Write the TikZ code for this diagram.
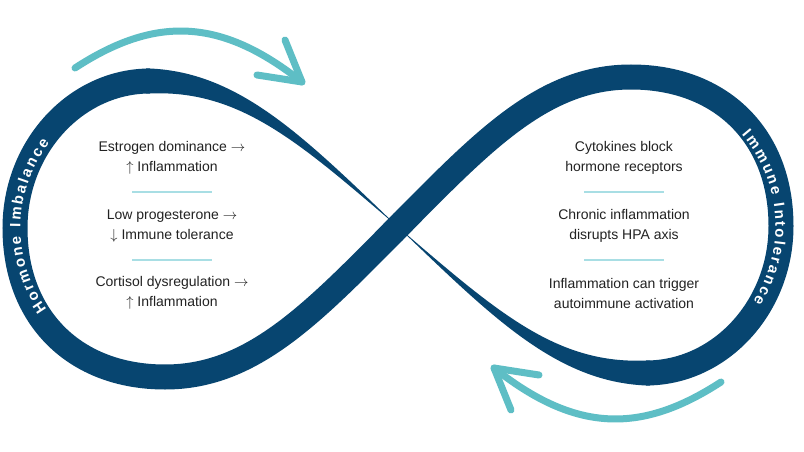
\documentclass[tikz,border=0pt]{standalone}
\usepackage{fontspec}
\setmainfont{Liberation Sans}
\newfontfamily\bandfam{Liberation Sans}
\usetikzlibrary{decorations.markings}
\definecolor{ribbonblue}{HTML}{074570}
\definecolor{arrowteal}{HTML}{5EBEC5}
\definecolor{divteal}{HTML}{A8DEE4}
\definecolor{bodytext}{HTML}{222222}
\newcommand\bandfont{\bandfam\bfseries\fontsize{15}{15}\selectfont}
\newcommand\ra{\ensuremath{\rightarrow}}
\newcommand\ua{\ensuremath{\uparrow}}
\newcommand\da{\ensuremath{\downarrow}}
% #1 path, #2 distance of text centre along path (pt), #3 letter gap (pt),
% #4 list letter/advance width (Liberation Sans Bold, 1/1000 em, at 15pt)
\newcommand\bandlabel[4]{%
  \gdef\bandtot{0}%
  \foreach \bch/\bw in {#4}{%
    \pgfmathparse{\bandtot+\bw*0.015+#3}\xdef\bandtot{\pgfmathresult}}%
  \pgfmathparse{#2-(\bandtot-#3)/2}\xdef\bandcur{\pgfmathresult}%
  \foreach \bch/\bw in {#4}{%
    \pgfmathparse{\bandcur+\bw*0.0075}\edef\bcpos{\pgfmathresult pt}%
    \pgfmathparse{\bandcur+\bw*0.015+#3}\xdef\bandcur{\pgfmathresult}%
    \path[decorate,decoration={markings,mark=at position \bcpos with {\node[bandletter] {\bch};}}] #1;%
  }%
}
\newcommand\ribbonhalf{%
  \fill[ribbonfill] (398,227) .. controls (304.4,137.3) and (240,72.5) .. (150,68.5)
     -- (146,68.5) -- (146,93.5) -- (150,93.5)
     .. controls (240,89.5) and (299.6,142.7) .. (398,227) -- cycle;
  \draw[ribbon] (150,81) .. controls (76,81) and (15,147) .. (15,228)
     .. controls (15,318) and (75,377) .. (165,377)
     .. controls (252,377) and (312,314) .. (398,227) -- (403.6,221.3);
}
\begin{document}
\begin{tikzpicture}[x=1pt,y=-1pt,
  ribbon/.style={draw=ribbonblue, line width=25pt, line cap=butt},
  ribbonfill/.style={fill=ribbonblue},
  cyclearrow/.style={draw=arrowteal, line width=7pt, line cap=round, line join=round},
  divider/.style={draw=divteal, line width=1.2pt},
  info/.style={align=center, text=bodytext, font=\fontsize{14}{20}\selectfont, inner sep=0pt},
  bandletter/.style={transform shape, anchor=base, inner sep=0pt, text=white, font=\bandfont}]
\useasboundingbox (0,0) rectangle (804,452);
\fill[white] (0,0) rectangle (804,452);

% infinity ribbon
\ribbonhalf
\begin{scope}[rotate around={180:(398,227)}]
  \ribbonhalf
\end{scope}

% cycle arrows
\coordinate (as) at (75,68);
\coordinate (at) at (302,82);
\coordinate (aw1) at (285,40);
\coordinate (aw2) at (257,75);
\draw[cyclearrow] (as) .. controls (154.6,16.2) and (220,17) .. (at);
\draw[cyclearrow] (aw1) -- (at) -- (aw2);
\begin{scope}[rotate around={180:(398,225)}]
  \coordinate (bs) at (75,68);
  \coordinate (bt) at (302,82);
  \coordinate (bw1) at (285,40);
  \coordinate (bw2) at (257,75);
  \draw[cyclearrow] (bs) .. controls (154.6,16.2) and (220,17) .. (bt);
  \draw[cyclearrow] (bw1) -- (bt) -- (bw2);
\end{scope}

% band labels
\bandlabel{(112.29,359.09) arc[start angle=110,end angle=250,radius=139.5]}{172.86}{2.2}{H/722,o/611,r/389,m/889,o/611,n/611,e/556,~/278,I/278,m/889,b/611,a/556,l/278,a/556,n/611,c/556,e/556}
\bandlabel{(660.22,88.62) arc[start angle=-80,end angle=70,radius=139.5]}{185.04}{2.2}{I/278,m/889,m/889,u/611,n/611,e/556,~/278,I/278,n/611,t/333,o/611,l/278,e/556,r/389,a/556,n/611,c/556,e/556}

% left texts
\node[info] (l1) at (172,158) {Estrogen dominance \ra\\\ua\ Inflammation};
\node[info] (l2) at (172,226) {Low progesterone \ra\\\da\ Immune tolerance};
\node[info] (l3) at (172,293) {Cortisol dysregulation \ra\\\ua\ Inflammation};
\draw[divider] (132,192) -- (212,192);
\draw[divider] (132,260) -- (212,260);

% right texts
\node[info] (r1) at (624,158) {Cytokines block\\hormone receptors};
\node[info] (r2) at (624,226) {Chronic inflammation\\disrupts HPA axis};
\node[info] (r3) at (624,293) {Inflammation can trigger\\autoimmune activation};
\draw[divider] (584,192) -- (664,192);
\draw[divider] (584,260) -- (664,260);
\end{tikzpicture}
\end{document}
